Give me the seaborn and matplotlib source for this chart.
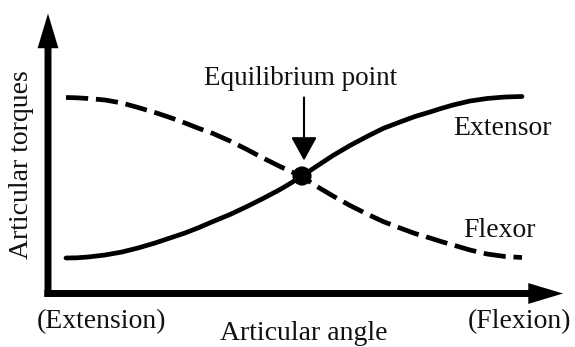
import matplotlib
matplotlib.use('Agg')
import matplotlib.pyplot as plt
import seaborn as sns
import pandas as pd

# curves (angle / torque in arbitrary units)
angle_ext = [18, 29, 40, 57, 74, 90, 107, 122, 137, 151, 165, 182, 199, 215, 232, 243,
             254, 269, 285, 302, 319, 335, 352, 367, 382, 393, 405, 422, 439, 457, 474]
torque_ext = [35.5, 35.7, 36.5, 38.5, 41.5, 45.5, 50.5, 55.5, 60.5, 66, 72, 79, 87, 95,
              104, 110.5, 117.5, 127.5, 138, 148, 157, 165, 171.5, 177, 181.5, 185,
              188.5, 192.5, 195, 196.5, 197]
angle_flex = [18, 29, 40, 57, 74, 90, 107, 122, 137, 151, 165, 182, 199, 215, 232, 243,
              254, 269, 285, 302, 319, 335, 352, 367, 382, 393, 405, 422, 439, 457, 474]
torque_flex = [196, 195.7, 195, 193.5, 190.5, 186, 181, 176, 170.5, 165, 160, 152.5,
               144, 135.5, 127, 122, 117, 107, 97.5, 88, 79.5, 72, 65.5, 60, 55.5, 52,
               48.5, 43.5, 39.5, 37, 36]
eq_angle = [254]
eq_torque = [117.5]

df = pd.concat([
    pd.DataFrame({'angle': angle_ext, 'torque': torque_ext, 'muscle': 'Extensor'}),
    pd.DataFrame({'angle': angle_flex, 'torque': torque_flex, 'muscle': 'Flexor'}),
], ignore_index=True)
eq = pd.DataFrame({'angle': eq_angle, 'torque': eq_torque})

sns.set_style('white')
plt.rcParams['font.family'] = ['Liberation Serif', 'DejaVu Serif']
txt = '#111111'

fig = plt.figure(figsize=(5.75, 3.47), dpi=100)
ax = fig.add_axes([48 / 575, (347 - 293.5) / 347, 515 / 575, 280 / 347])

sns.lineplot(data=df, x='angle', y='torque', style='muscle', sort=False,
             dashes={'Extensor': '', 'Flexor': (4.7, 1.65)},
             color='black', lw=3.4, legend=False, ax=ax)
sns.scatterplot(data=eq, x='angle', y='torque', s=190, color='black',
                edgecolor='none', zorder=5, ax=ax)

ax.set_xlim(0, 515)
ax.set_ylim(0, 280)
ax.set_axis_off()

# axis arrows
head = dict(arrowstyle='simple,head_length=2.5,head_width=1.5,tail_width=0.5',
            fc='black', ec='black', lw=0, shrinkA=0, shrinkB=0, mutation_scale=10)
ax.annotate('', xy=(1, 0), xytext=(-0.007, 0), xycoords='axes fraction',
            arrowprops=head)
ax.annotate('', xy=(0, 1), xytext=(0, -0.0125), xycoords='axes fraction',
            arrowprops=head)

# equilibrium arrow
ax.annotate('', xy=(256, 133), xytext=(256, 196),
            arrowprops=dict(arrowstyle='-|>,head_length=1.45,head_width=0.8',
                            color='black', lw=1.5, shrinkA=0, shrinkB=0,
                            mutation_scale=10))

fs = 20
ax.text(253, 208.5, 'Equilibrium point', ha='center', va='baseline', fontsize=19.5, color=txt)
ax.text(405, 158.5, 'Extensor', ha='left', va='baseline', fontsize=fs, color=txt)
ax.text(415, 56.5, 'Flexor', ha='left', va='baseline', fontsize=fs, color=txt)
ax.text(54, -34.5, '(Extension)', ha='center', va='baseline', fontsize=fs, color=txt)
ax.text(523, -34.5, '(Flexion)', ha='right', va='baseline', fontsize=fs, color=txt)
ax.text(256, -46.5, 'Articular angle', ha='center', va='baseline', fontsize=fs, color=txt)
ax.text(-27, 128.5, 'Articular torques', ha='center', va='center', rotation=90,
        fontsize=fs, color=txt)

fig.savefig('out.png', dpi=100)
